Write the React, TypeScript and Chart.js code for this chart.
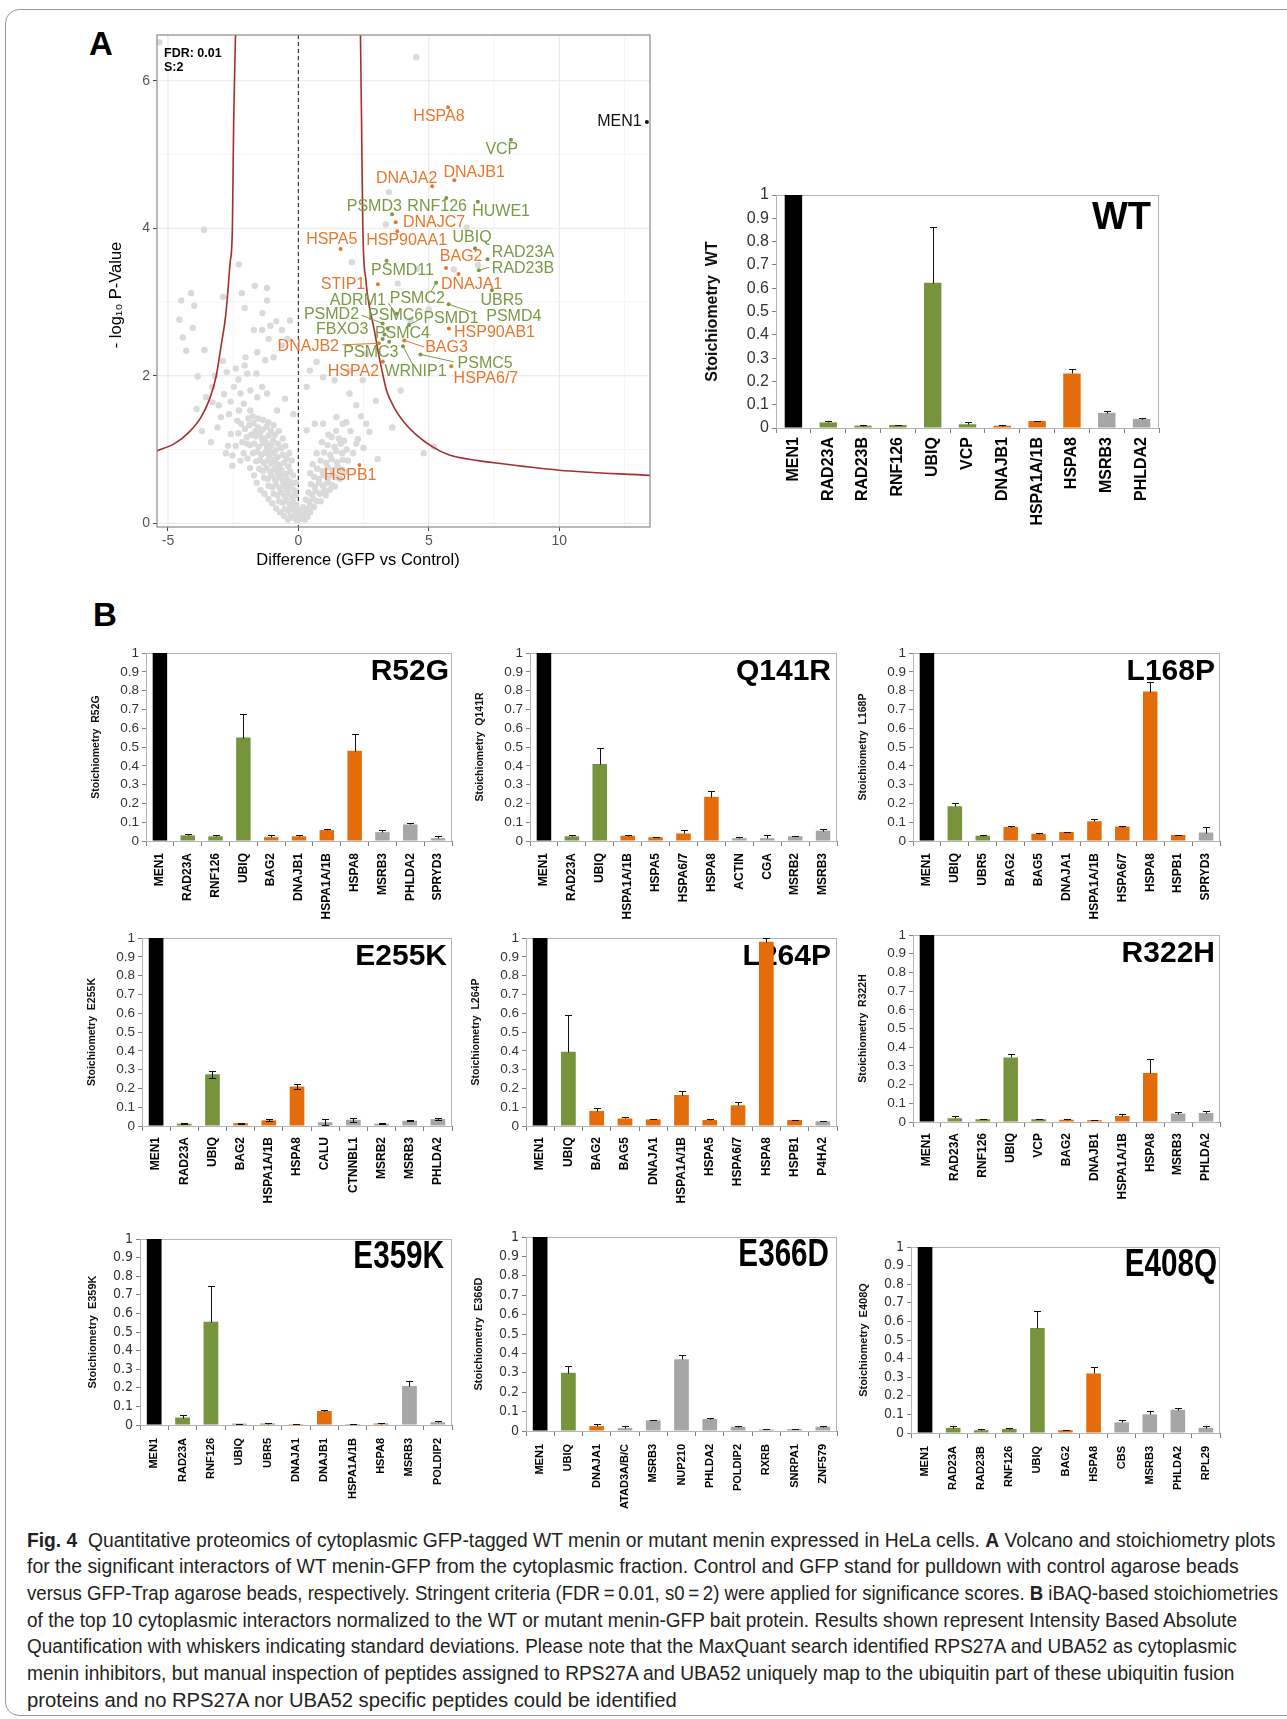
import React, { useEffect, useLayoutEffect, useRef } from 'react';
import { Chart, registerables } from 'chart.js';

Chart.register(...registerables);

const SANS = "'Liberation Sans', Arial, Helvetica, sans-serif";
const NARROW = "'Liberation Sans Narrow', 'Arial Narrow', 'DejaVu Sans Condensed', 'Liberation Sans', Arial, sans-serif";

// ---------------- Panel A: volcano plot ----------------
const volXTicks = [-5, 0, 5, 10];
const volYTicks = [0, 2, 4, 6];
const volXMinor = [-2.5, 2.5, 7.5, 12.5];
const volYMinor = [1, 3, 5];

// significance threshold curves
const curveRight: [number, number][] = [
  [2.38, 6.62], [2.42, 5.5], [2.47, 4.0], [2.59, 3.29], [2.66, 3.07], [2.91, 2.62], [3.1, 2.25],
  [3.23, 2.03], [3.38, 1.8], [3.67, 1.57], [4.05, 1.37], [4.49, 1.21], [5.13, 1.04], [5.76, 0.93],
  [6.9, 0.85], [7.5, 0.82], [10.0, 0.72], [13.48, 0.65],
];
const curveLeft: [number, number][] = [
  [-5.44, 0.98], [-4.75, 1.08], [-4.18, 1.24], [-3.73, 1.44], [-3.42, 1.67], [-3.16, 1.98],
  [-2.97, 2.39], [-2.78, 2.84], [-2.62, 3.52], [-2.53, 4.0], [-2.48, 5.46], [-2.41, 6.62],
];

// non-significant proteins (grey cloud)
const grayCloud: [number, number][] = [
  [-5.33, 6.52], [4.52, 6.32], [-3.62, 3.98], [3.47, 4.49], [3.35, 4.05], [6.45, 4.01], [2.05, 3.54],
  [3.81, 3.25], [5.96, 3.44], [6.88, 3.5], [-2.28, 3.51], [-4.11, 3.12], [-4.49, 3.02], [-3.99, 2.95],
  [-4.56, 2.76], [-4.05, 2.65], [-4.43, 2.52], [-4.3, 2.34], [-3.86, 1.99], [-2.06, 2.92], [-1.67, 3.22],
  [-1.2, 3.19], [-1.2, 3.02], [-0.85, 2.74], [-1.71, 2.62], [-1.39, 2.62], [-1.08, 2.68], [-1.14, 2.5],
  [-1.58, 2.32], [-2.03, 2.25], [-2.06, 2.14], [-1.96, 2.03], [-1.61, 2.03], [-1.27, 2.21], [-0.95, 2.25],
  [-0.63, 2.41], [-0.42, 2.5], [-0.63, 2.62], [-0.32, 2.75], [-2.88, 3.07], [-1.38, 2.85], [-2.17, 3.12],
  [0.7, 2.19], [0.44, 2.07], [0.95, 1.98], [1.39, 1.94], [1.96, 1.76], [2.22, 1.6], [2.47, 1.94],
  [2.97, 1.66], [3.92, 1.8], [2.72, 1.24], [3.04, 0.87], [4.81, 0.95], [5.19, 1.04], [2.28, 1.14],
  [2.22, 1.08], [1.84, 1.37], [1.46, 1.44], [0.95, 1.35], [0.63, 1.35], [0.32, 1.26], [1.96, 2.07],
  [0.32, 1.85], [3.6, 1.3], [4.3, 2.75], [5.0, 2.9], [4.55, 3.45], [2.6, 2.3],
  [-3.54, 1.71], [-3.29, 1.64], [-2.97, 1.44], [-2.66, 1.48], [-3.1, 1.3], [-2.59, 1.21], [-2.34, 1.39],
  [-2.47, 1.85], [-2.22, 1.76], [-1.84, 1.8], [-1.58, 1.71], [-1.39, 1.85], [-1.2, 1.76], [-0.82, 1.53],
  [-0.51, 1.69], [-0.19, 1.48], [-1.84, 1.53], [-2.09, 1.62], [-2.28, 1.53], [-2.7, 1.05], [-2.53, 0.78],
  [-2.22, 0.85], [-2.53, 0.92], [-2.78, 0.95], [-1.96, 1.08], [-3.3, 1.85], [-2.9, 2.2], [-3.6, 2.35],
  [-3.9, 1.55], [-3.7, 1.25], [-3.35, 1.1], [-3.05, 1.6], [-2.85, 1.75], [-2.6, 1.65], [-3.2, 2.0],
  [-2.75, 2.05], [-2.4, 2.1], [-2.3, 1.95],
  [-2.05, 1.28], [-1.88, 1.33], [-1.72, 1.36], [-1.55, 1.3], [-1.38, 1.27], [-1.22, 1.31], [-1.05, 1.25], [-0.9, 1.2],
  [-1.98, 1.17], [-1.8, 1.2], [-1.63, 1.18], [-1.47, 1.22], [-1.31, 1.15], [-1.14, 1.19], [-0.97, 1.12], [-0.78, 1.08],
  [-1.86, 1.06], [-1.7, 1.08], [-1.52, 1.04], [-1.36, 1.09], [-1.2, 1.03], [-1.04, 1.06], [-0.88, 0.99], [-0.66, 1.02],
  [-1.74, 0.95], [-1.58, 0.97], [-1.42, 0.93], [-1.27, 0.96], [-1.12, 0.92], [-0.96, 0.95], [-0.8, 0.9], [-0.6, 0.93], [-0.45, 0.88],
  [-1.62, 0.84], [-1.47, 0.86], [-1.33, 0.82], [-1.18, 0.85], [-1.03, 0.81], [-0.88, 0.84], [-0.73, 0.79], [-0.55, 0.82], [-0.38, 0.77],
  [-1.5, 0.74], [-1.36, 0.71], [-1.22, 0.75], [-1.08, 0.7], [-0.93, 0.73], [-0.79, 0.68], [-0.64, 0.72], [-0.48, 0.67], [-0.31, 0.7],
  [-1.32, 0.62], [-1.18, 0.6], [-1.03, 0.64], [-0.89, 0.59], [-0.74, 0.62], [-0.59, 0.57], [-0.45, 0.61], [-0.3, 0.56],
  [-1.15, 0.51], [-1.0, 0.49], [-0.86, 0.53], [-0.72, 0.48], [-0.57, 0.51], [-0.43, 0.46], [-0.28, 0.5], [-0.16, 0.45],
  [-0.95, 0.4], [-0.8, 0.38], [-0.66, 0.42], [-0.52, 0.37], [-0.38, 0.4], [-0.24, 0.35], [-0.12, 0.38],
  [-0.74, 0.3], [-0.6, 0.28], [-0.46, 0.31], [-0.33, 0.26], [-0.2, 0.29], [-0.08, 0.25],
  [-0.52, 0.19], [-0.38, 0.17], [-0.25, 0.2], [-0.12, 0.15], [-0.02, 0.18],
  [-0.3, 0.09], [-0.16, 0.07], [-0.05, 0.04], [0.03, 0.1],
  [-2.15, 1.1], [-2.3, 1.22], [-2.4, 1.05], [-2.1, 0.95], [-1.95, 0.88], [-1.85, 0.75], [-1.7, 0.65],
  [-1.6, 0.55], [-1.45, 0.45], [-1.3, 0.4], [-1.15, 0.33], [-1.0, 0.27], [-0.85, 0.2], [-0.7, 0.15],
  [-0.55, 0.1], [-0.4, 0.05], [-1.75, 1.45], [-1.55, 1.42], [-1.35, 1.4], [-1.15, 1.37], [-0.95, 1.33],
  [-0.75, 1.25], [-0.6, 1.15], [-0.5, 1.05], [-0.35, 0.95], [-0.25, 0.85], [-0.2, 0.65], [-0.1, 0.55],
  [-1.92, 1.42], [-2.2, 1.35], [-1.65, 1.25], [-1.4, 1.15], [-1.25, 1.1], [-1.1, 0.98], [-0.95, 0.86],
  [-0.82, 0.76], [-0.68, 0.66], [-0.55, 0.56], [-0.42, 0.52],
  [0.12, 0.06], [0.22, 0.12], [0.35, 0.09], [0.18, 0.22], [0.32, 0.19], [0.46, 0.24],
  [0.28, 0.32], [0.42, 0.29], [0.56, 0.34], [0.7, 0.3], [0.38, 0.42], [0.52, 0.39], [0.66, 0.44], [0.82, 0.4], [0.98, 0.44],
  [0.48, 0.53], [0.63, 0.5], [0.79, 0.55], [0.95, 0.51], [1.12, 0.55], [1.28, 0.52],
  [0.6, 0.63], [0.78, 0.6], [0.96, 0.65], [1.14, 0.61], [1.32, 0.66], [1.48, 0.62],
  [0.72, 0.74], [0.92, 0.71], [1.12, 0.76], [1.3, 0.72], [1.5, 0.77], [1.66, 0.73],
  [0.85, 0.85], [1.06, 0.82], [1.27, 0.87], [1.48, 0.83], [1.7, 0.86],
  [0.98, 0.96], [1.22, 0.93], [1.45, 0.98], [1.68, 0.95], [1.12, 1.06], [1.38, 1.04], [1.62, 1.08],
  [1.28, 1.17], [1.55, 1.15],
  [0.08, 0.15], [0.25, 0.05], [0.45, 0.15], [0.6, 0.22], [0.85, 0.3], [1.05, 0.38], [1.2, 0.45],
  [1.4, 0.5], [1.6, 0.6], [1.8, 0.7], [1.9, 0.85], [1.85, 1.0], [1.75, 1.12], [1.45, 1.25], [1.15, 1.2],
  [0.9, 1.1], [0.7, 0.95], [0.55, 0.8], [0.45, 0.68], [2.0, 1.25], [2.1, 0.95], [1.7, 1.35], [2.4, 1.45],
  [2.6, 1.35], [2.5, 1.02],
];

// significant interactors
const hitNames = ['MEN1', 'HSPA8', 'VCP', 'DNAJB1', 'DNAJA2', 'PSMD3', 'RNF126', 'HUWE1', 'DNAJC7', 'HSPA5', 'HSP90AA1', 'UBIQ', 'RAD23A', 'BAG2', 'PSMD11', 'RAD23B', 'STIP1', 'DNAJA1', 'ADRM1', 'PSMC2', 'UBR5', 'PSMD2', 'PSMC6', 'PSMD1', 'PSMD4', 'FBXO3', 'PSMC4', 'HSP90AB1', 'DNAJB2', 'BAG3', 'PSMC3', 'PSMC5', 'WRNIP1', 'HSPA2', 'HSPA6/7', 'HSPB1'];
const hitX = [13.36, 5.74, 8.15, 5.98, 5.13, 3.59, 5.67, 6.88, 3.73, 1.62, 3.79, 6.77, 7.25, 5.66, 3.38, 6.92, 3.05, 6.14, 3.76, 5.28, 7.42, 3.23, 3.42, 4.24, 5.76, 3.23, 3.48, 5.77, 3.08, 4.06, 3.3, 4.68, 4.01, 3.24, 5.86, 2.34];
const hitY = [5.44, 5.64, 5.2, 4.65, 4.57, 4.19, 4.41, 4.36, 4.08, 3.72, 3.96, 3.73, 3.58, 3.46, 3.56, 3.43, 3.24, 3.38, 2.84, 3.26, 3.16, 2.71, 2.64, 2.69, 2.97, 2.5, 2.46, 2.64, 2.44, 2.48, 2.56, 2.29, 2.4, 2.19, 2.13, 0.79];
const hitGroup = ['k', 'o', 'g', 'o', 'o', 'g', 'g', 'g', 'o', 'o', 'o', 'g', 'g', 'o', 'g', 'g', 'o', 'o', 'g', 'g', 'g', 'g', 'g', 'g', 'g', 'g', 'g', 'o', 'o', 'o', 'g', 'g', 'g', 'o', 'o', 'o'];
const hitLabelX = [12.31, 5.39, 7.8, 6.74, 4.15, 2.91, 5.32, 7.77, 5.2, 1.28, 4.15, 6.66, 8.61, 6.24, 3.99, 8.61, 1.71, 6.64, 2.28, 4.56, 7.8, 1.27, 3.73, 5.85, 8.26, 1.68, 3.99, 7.52, 0.38, 5.68, 2.78, 7.16, 4.49, 2.11, 7.19, 1.99];
const hitLabelY = [5.44, 5.51, 5.07, 4.75, 4.68, 4.3, 4.29, 4.22, 4.08, 3.85, 3.83, 3.87, 3.67, 3.61, 3.42, 3.45, 3.24, 3.24, 3.02, 3.05, 3.02, 2.83, 2.82, 2.78, 2.8, 2.62, 2.57, 2.58, 2.4, 2.38, 2.31, 2.17, 2.06, 2.06, 1.96, 0.65];
const leaderNames = ['RAD23B', 'PSMC2', 'ADRM1', 'PSMD4', 'PSMD2', 'PSMD1', 'DNAJB2', 'BAG3', 'WRNIP1', 'PSMC5'];
const leaderEndX = [7.31, 5.1, 3.45, 6.85, 2.42, 4.62, 1.68, 4.82, 4.42, 5.95];
const leaderEndY = [3.47, 3.15, 2.98, 2.84, 2.82, 2.76, 2.42, 2.39, 2.13, 2.19];

// ---------------- Stoichiometry bar panels ----------------
const barTicks = [0, 0.1, 0.2, 0.3, 0.4, 0.5, 0.6, 0.7, 0.8, 0.9, 1];

const wtCats = ['MEN1', 'RAD23A', 'RAD23B', 'RNF126', 'UBIQ', 'VCP', 'DNAJB1', 'HSPA1A/1B', 'HSPA8', 'MSRB3', 'PHLDA2'];
const wtVals = [1, 0.024, 0.01, 0.013, 0.623, 0.016, 0.01, 0.03, 0.234, 0.065, 0.039];
const wtSd = [0, 0.008, 0.003, 0.002, 0.24, 0.008, 0.002, 0.002, 0.02, 0.008, 0.004];
const wtCol = ['k', 'g', 'g', 'g', 'g', 'g', 'o', 'o', 'o', 's', 's'];

const r52gCats = ['MEN1', 'RAD23A', 'RNF126', 'UBIQ', 'BAG2', 'DNAJB1', 'HSPA1A/1B', 'HSPA8', 'MSRB3', 'PHLDA2', 'SPRYD3'];
const r52gVals = [1, 0.03, 0.025, 0.55, 0.02, 0.025, 0.058, 0.48, 0.047, 0.088, 0.015];
const r52gSd = [0, 0.008, 0.008, 0.125, 0.01, 0.005, 0.007, 0.09, 0.01, 0.01, 0.012];
const r52gCol = ['k', 'g', 'g', 'g', 'o', 'o', 'o', 'o', 's', 's', 's'];

const q141rCats = ['MEN1', 'RAD23A', 'UBIQ', 'HSPA1A/1B', 'HSPA5', 'HSPA6/7', 'HSPA8', 'ACTIN', 'CGA', 'MSRB2', 'MSRB3'];
const q141rVals = [1, 0.025, 0.41, 0.028, 0.02, 0.04, 0.235, 0.015, 0.015, 0.025, 0.055];
const q141rSd = [0, 0.005, 0.085, 0.003, 0.002, 0.017, 0.03, 0.004, 0.015, 0.002, 0.007];
const q141rCol = ['k', 'g', 'g', 'o', 'o', 'o', 'o', 's', 's', 's', 's'];

const l168pCats = ['MEN1', 'UBIQ', 'UBR5', 'BAG2', 'BAG5', 'DNAJA1', 'HSPA1A/1B', 'HSPA6/7', 'HSPA8', 'HSPB1', 'SPRYD3'];
const l168pVals = [1, 0.185, 0.028, 0.075, 0.038, 0.048, 0.105, 0.077, 0.795, 0.032, 0.045];
const l168pSd = [0, 0.015, 0.003, 0.003, 0.004, 0.002, 0.01, 0.005, 0.05, 0.002, 0.03];
const l168pCol = ['k', 'g', 'g', 'o', 'o', 'o', 'o', 'o', 'o', 'o', 's'];

const e255kCats = ['MEN1', 'RAD23A', 'UBIQ', 'BAG2', 'HSPA1A/1B', 'HSPA8', 'CALU', 'CTNNBL1', 'MSRB2', 'MSRB3', 'PHLDA2'];
const e255kVals = [1, 0.012, 0.275, 0.015, 0.03, 0.21, 0.02, 0.033, 0.012, 0.028, 0.037];
const e255kSd = [0, 0.003, 0.02, 0.003, 0.005, 0.015, 0.017, 0.01, 0.003, 0.004, 0.007];
const e255kCol = ['k', 'g', 'g', 'o', 'o', 'o', 's', 's', 's', 's', 's'];

const l264pCats = ['MEN1', 'UBIQ', 'BAG2', 'BAG5', 'DNAJA1', 'HSPA1A/1B', 'HSPA5', 'HSPA6/7', 'HSPA8', 'HSPB1', 'P4HA2'];
const l264pVals = [1, 0.395, 0.08, 0.04, 0.035, 0.165, 0.032, 0.11, 0.98, 0.032, 0.025];
const l264pSd = [0, 0.195, 0.015, 0.007, 0.003, 0.022, 0.003, 0.018, 0.02, 0.002, 0.002];
const l264pCol = ['k', 'g', 'o', 'o', 'o', 'o', 'o', 'o', 'o', 'o', 's'];

const r322hCats = ['MEN1', 'RAD23A', 'RNF126', 'UBIQ', 'VCP', 'BAG2', 'DNAJB1', 'HSPA1A/1B', 'HSPA8', 'MSRB3', 'PHLDA2'];
const r322hVals = [1, 0.02, 0.015, 0.345, 0.015, 0.012, 0.01, 0.032, 0.262, 0.045, 0.048];
const r322hSd = [0, 0.01, 0.002, 0.02, 0.003, 0.006, 0.001, 0.013, 0.076, 0.008, 0.012];
const r322hCol = ['k', 'g', 'g', 'g', 'g', 'o', 'o', 'o', 'o', 's', 's'];

const e359kCats = ['MEN1', 'RAD23A', 'RNF126', 'UBIQ', 'UBR5', 'DNAJA1', 'DNAJB1', 'HSPA1A/1B', 'HSPA8', 'MSRB3', 'POLDIP2'];
const e359kVals = [1, 0.04, 0.555, 0.007, 0.008, 0.005, 0.075, 0.005, 0.008, 0.21, 0.015];
const e359kSd = [0, 0.013, 0.19, 0.001, 0.002, 0.001, 0.007, 0.001, 0.002, 0.025, 0.005];
const e359kCol = ['k', 'g', 'g', 'g', 'g', 'o', 'o', 'o', 'o', 's', 's'];

const e366dCats = ['MEN1', 'UBIQ', 'DNAJA1', 'ATAD3A/B/C', 'MSRB3', 'NUP210', 'PHLDA2', 'POLDIP2', 'RXRB', 'SNRPA1', 'ZNF579'];
const e366dVals = [1, 0.3, 0.025, 0.015, 0.055, 0.37, 0.062, 0.022, 0.008, 0.01, 0.022];
const e366dSd = [0, 0.035, 0.01, 0.013, 0.003, 0.02, 0.003, 0.003, 0.004, 0.002, 0.003];
const e366dCol = ['k', 'g', 'o', 's', 's', 's', 's', 's', 's', 's', 's'];

const e408qCats = ['MEN1', 'RAD23A', 'RAD23B', 'RNF126', 'UBIQ', 'BAG2', 'HSPA8', 'CBS', 'MSRB3', 'PHLDA2', 'RPL29'];
const e408qVals = [1, 0.028, 0.015, 0.022, 0.565, 0.015, 0.32, 0.057, 0.1, 0.125, 0.028];
const e408qSd = [0, 0.007, 0.005, 0.003, 0.09, 0.003, 0.035, 0.011, 0.018, 0.01, 0.007];
const e408qCol = ['k', 'g', 'g', 'g', 'g', 'o', 'o', 's', 's', 's', 's'];

const BAR_COLORS: Record<string, string> = { k: '#000000', g: '#77933C', o: '#E46C0A', s: '#A6A6A6' };
const VOL_COLORS: Record<string, string> = { k: '#111111', g: '#7A9A45', o: '#E8772E' };

// ---------------- layout / styles ----------------
const styleWT = { tickSize: 16, tickFamily: SANS, catSize: 16, catFamily: SANS, catPad: 4, yTitleSize: 16, yTitleDx: 63, titleSize: 38, titleScale: 1, titleDy: 24, barPct: 0.5 };
const styleR1 = { tickSize: 13.5, tickFamily: SANS, catSize: 12, catFamily: SANS, catPad: 7, yTitleSize: 10.5, yTitleDx: 50, titleSize: 30, titleScale: 1, titleDy: 18.5, barPct: 0.52 };
const styleR2 = { ...styleR1, catPad: 6 };
const styleR3 = { tickSize: 14, tickFamily: NARROW, catSize: 11, catFamily: SANS, catPad: 8, yTitleSize: 11, yTitleDx: 47, titleSize: 38, titleScale: 0.78, titleDy: 19, barPct: 0.52 };

const panels = [
  { title: 'WT', cats: wtCats, vals: wtVals, sd: wtSd, col: wtCol, both: false, L: 776, R: 1159, T: 195, B: 428, yW: 84, xH: 100, titleDx: 8, st: styleWT },
  { title: 'R52G', cats: r52gCats, vals: r52gVals, sd: r52gSd, col: r52gCol, both: false, L: 146, R: 452, T: 653, B: 841, yW: 70, xH: 85, titleDx: 3, st: styleR1 },
  { title: 'Q141R', cats: q141rCats, vals: q141rVals, sd: q141rSd, col: q141rCol, both: false, L: 530, R: 837, T: 653, B: 841, yW: 70, xH: 85, titleDx: 6, st: styleR1 },
  { title: 'L168P', cats: l168pCats, vals: l168pVals, sd: l168pSd, col: l168pCol, both: false, L: 913, R: 1220, T: 653, B: 841, yW: 70, xH: 85, titleDx: 5, st: styleR1 },
  { title: 'E255K', cats: e255kCats, vals: e255kVals, sd: e255kSd, col: e255kCol, both: true, L: 142, R: 452, T: 938, B: 1126, yW: 70, xH: 85, titleDx: 5, st: styleR2 },
  { title: 'L264P', cats: l264pCats, vals: l264pVals, sd: l264pSd, col: l264pCol, both: false, L: 526, R: 837, T: 938, B: 1126, yW: 70, xH: 85, titleDx: 6, st: styleR2 },
  { title: 'R322H', cats: r322hCats, vals: r322hVals, sd: r322hSd, col: r322hCol, both: false, L: 913, R: 1220, T: 935, B: 1122, yW: 70, xH: 85, titleDx: 5, st: styleR2 },
  { title: 'E359K', cats: e359kCats, vals: e359kVals, sd: e359kSd, col: e359kCol, both: false, L: 140, R: 452, T: 1239, B: 1425, yW: 70, xH: 90, titleDx: 8, st: styleR3 },
  { title: 'E366D', cats: e366dCats, vals: e366dVals, sd: e366dSd, col: e366dCol, both: false, L: 526, R: 837, T: 1237, B: 1431, yW: 70, xH: 90, titleDx: 8, st: styleR3 },
  { title: 'E408Q', cats: e408qCats, vals: e408qVals, sd: e408qSd, col: e408qCol, both: false, L: 911, R: 1220, T: 1247, B: 1433, yW: 70, xH: 90, titleDx: 3, st: styleR3 },
];

const PT = 12;
const PR = 8;

function BarPanel({ p }: { p: any }) {
  const ref = useRef<HTMLCanvasElement>(null);
  const w = p.R - p.L + p.yW + PR;
  const h = p.B - p.T + PT + p.xH;
  useEffect(() => {
    const st = p.st;
    const plugin = {
      id: 'panelDeco',
      beforeDatasetsDraw(chart: any) {
        const { ctx, chartArea: a } = chart;
        ctx.save();
        ctx.strokeStyle = '#b4b4b4';
        ctx.lineWidth = 1;
        ctx.strokeRect(a.left + 0.5, a.top + 0.5, a.right - a.left - 1, a.bottom - a.top);
        ctx.fillStyle = '#000';
        ctx.font = `bold ${st.titleSize}px ${SANS}`;
        ctx.textAlign = 'right';
        ctx.textBaseline = 'middle';
        ctx.translate(a.right - p.titleDx, a.top + st.titleDy);
        ctx.scale(st.titleScale, 1);
        ctx.fillText(p.title, 0, 0);
        ctx.restore();
        ctx.save();
        ctx.translate(a.left - st.yTitleDx, (a.top + a.bottom) / 2);
        ctx.rotate(-Math.PI / 2);
        ctx.font = `bold ${st.yTitleSize}px ${SANS}`;
        ctx.fillStyle = '#111';
        ctx.textAlign = 'center';
        ctx.textBaseline = 'middle';
        ctx.fillText(`Stoichiometry  ${p.title}`, 0, 0);
        ctx.restore();
      },
      afterDatasetsDraw(chart: any) {
        const { ctx } = chart;
        const ys = chart.scales.y;
        const meta = chart.getDatasetMeta(0);
        ctx.save();
        ctx.strokeStyle = '#111';
        ctx.lineWidth = 1;
        meta.data.forEach((bar: any, i: number) => {
          const sd = p.sd[i];
          if (!sd) return;
          const v = p.vals[i];
          const x = Math.round(bar.x) + 0.5;
          const yTop = Math.round(ys.getPixelForValue(v + sd)) + 0.5;
          const yBot = Math.round(ys.getPixelForValue(p.both ? v - sd : v)) + 0.5;
          ctx.beginPath();
          ctx.moveTo(x, yBot);
          ctx.lineTo(x, yTop);
          ctx.moveTo(x - 3.5, yTop);
          ctx.lineTo(x + 3.5, yTop);
          if (p.both) {
            ctx.moveTo(x - 3.5, yBot);
            ctx.lineTo(x + 3.5, yBot);
          }
          ctx.stroke();
        });
        ctx.restore();
      },
    };
    const chart = new Chart(ref.current as HTMLCanvasElement, {
      type: 'bar',
      data: {
        labels: p.cats,
        datasets: [
          {
            data: p.vals,
            backgroundColor: p.col.map((c: string) => BAR_COLORS[c]),
            borderWidth: 0,
            barPercentage: st.barPct,
            categoryPercentage: 1,
          },
        ],
      },
      options: {
        responsive: false,
        animation: false,
        devicePixelRatio: 1,
        events: [],
        layout: { padding: { top: PT, right: PR, left: 0, bottom: 0 } },
        plugins: { legend: { display: false }, tooltip: { enabled: false } },
        scales: {
          x: {
            offset: true,
            grid: { offset: true, drawOnChartArea: false, tickLength: 5, color: '#808080' },
            border: { color: '#808080' },
            ticks: {
              autoSkip: false,
              minRotation: 90,
              maxRotation: 90,
              padding: st.catPad,
              color: '#000',
              font: { family: st.catFamily, size: st.catSize, weight: 'bold' },
            },
            afterFit: (s: any) => {
              s.height = p.xH;
            },
          },
          y: {
            min: 0,
            max: 1,
            afterBuildTicks: (s: any) => {
              s.ticks = barTicks.map((v) => ({ value: v }));
            },
            grid: { drawOnChartArea: false, tickLength: 4, color: '#808080' },
            border: { color: '#808080' },
            ticks: {
              autoSkip: false,
              padding: 3,
              color: '#333',
              font: { family: st.tickFamily, size: st.tickSize, lineHeight: 1 },
              callback: (v: any) => String(Math.round(Number(v) * 10) / 10),
            },
            afterFit: (s: any) => {
              s.width = p.yW;
            },
          },
        },
      } as any,
      plugins: [plugin],
    });
    return () => chart.destroy();
  }, []);
  return (
    <canvas
      ref={ref}
      width={w}
      height={h}
      style={{ position: 'absolute', left: p.L - p.yW, top: p.T - PT, width: w, height: h }}
    />
  );
}

// volcano layout
const VOL = { left: 90, top: 20, width: 570, height: 560, yW: 67, xH: 53, pt: 15, pr: 10 };

function Volcano() {
  const ref = useRef<HTMLCanvasElement>(null);
  useEffect(() => {
    const toPts = (arr: [number, number][]) => arr.map(([x, y]) => ({ x, y }));
    const groupPts = (g: string) =>
      hitNames.map((_, i) => i).filter((i) => hitGroup[i] === g).map((i) => ({ x: hitX[i], y: hitY[i] }));
    const plugin = {
      id: 'volcDeco',
      beforeDatasetsDraw(chart: any) {
        const { ctx, chartArea: a } = chart;
        const xs = chart.scales.x;
        const ys = chart.scales.y;
        ctx.save();
        const vline = (v: number) => {
          const px = xs.getPixelForValue(v);
          ctx.beginPath();
          ctx.moveTo(px, a.top);
          ctx.lineTo(px, a.bottom);
          ctx.stroke();
        };
        const hline = (v: number) => {
          const py = ys.getPixelForValue(v);
          ctx.beginPath();
          ctx.moveTo(a.left, py);
          ctx.lineTo(a.right, py);
          ctx.stroke();
        };
        ctx.strokeStyle = '#f3f3f3';
        ctx.lineWidth = 0.8;
        volXMinor.forEach(vline);
        volYMinor.forEach(hline);
        ctx.strokeStyle = '#e7e7e7';
        ctx.lineWidth = 1.1;
        volXTicks.forEach(vline);
        volYTicks.forEach(hline);
        ctx.strokeStyle = '#3a3a3a';
        ctx.lineWidth = 1.2;
        ctx.setLineDash([4, 3]);
        vline(0);
        ctx.restore();
      },
      afterDatasetsDraw(chart: any) {
        const { ctx, chartArea: a } = chart;
        const xs = chart.scales.x;
        const ys = chart.scales.y;
        ctx.save();
        ctx.lineWidth = 1;
        leaderNames.forEach((n, k) => {
          const i = hitNames.indexOf(n);
          ctx.strokeStyle = VOL_COLORS[hitGroup[i]];
          ctx.beginPath();
          ctx.moveTo(xs.getPixelForValue(hitX[i]), ys.getPixelForValue(hitY[i]));
          ctx.lineTo(xs.getPixelForValue(leaderEndX[k]), ys.getPixelForValue(leaderEndY[k]));
          ctx.stroke();
        });
        ctx.font = `16px ${SANS}`;
        ctx.textAlign = 'center';
        ctx.textBaseline = 'middle';
        hitNames.forEach((n, i) => {
          ctx.fillStyle = VOL_COLORS[hitGroup[i]];
          ctx.fillText(n, xs.getPixelForValue(hitLabelX[i]), ys.getPixelForValue(hitLabelY[i]));
        });
        ctx.fillStyle = '#000';
        ctx.font = `bold 12.5px ${SANS}`;
        ctx.textAlign = 'left';
        ctx.fillText('FDR: 0.01', a.left + 7, a.top + 19);
        ctx.fillText('S:2', a.left + 7, a.top + 33);
        ctx.strokeStyle = '#8a8a8a';
        ctx.lineWidth = 1.2;
        ctx.strokeRect(a.left, a.top, a.right - a.left, a.bottom - a.top);
        ctx.fillStyle = '#000';
        ctx.font = `16.5px ${SANS}`;
        ctx.textAlign = 'center';
        ctx.fillText('Difference (GFP vs Control)', 268, 540);
        ctx.translate(26, 275);
        ctx.rotate(-Math.PI / 2);
        ctx.fillText('- log\u2081\u2080 P-Value', 0, 0);
        ctx.restore();
      },
    };
    const chart = new Chart(ref.current as HTMLCanvasElement, {
      type: 'scatter',
      data: {
        datasets: [
          { data: toPts(grayCloud), pointRadius: 3.2, backgroundColor: '#dadada', borderWidth: 0, order: 5 },
          {
            data: toPts(curveRight), showLine: true, borderColor: '#a3302b', borderWidth: 1.6,
            pointRadius: 0, cubicInterpolationMode: 'monotone', order: 4,
          },
          {
            data: toPts(curveLeft), showLine: true, borderColor: '#a3302b', borderWidth: 1.6,
            pointRadius: 0, cubicInterpolationMode: 'monotone', order: 4,
          },
          { data: groupPts('o'), pointRadius: 2, backgroundColor: VOL_COLORS.o, borderWidth: 0, order: 2 },
          { data: groupPts('g'), pointRadius: 2, backgroundColor: VOL_COLORS.g, borderWidth: 0, order: 2 },
          { data: groupPts('k'), pointRadius: 2, backgroundColor: VOL_COLORS.k, borderWidth: 0, order: 1 },
        ],
      },
      options: {
        responsive: false,
        animation: false,
        devicePixelRatio: 1,
        events: [],
        layout: { padding: { top: VOL.pt, right: VOL.pr, left: 0, bottom: 0 } },
        plugins: { legend: { display: false }, tooltip: { enabled: false } },
        scales: {
          x: {
            type: 'linear',
            min: -5.42,
            max: 13.48,
            afterBuildTicks: (s: any) => {
              s.ticks = volXTicks.map((v) => ({ value: v }));
            },
            grid: { drawOnChartArea: false, tickLength: 4, color: '#444' },
            border: { display: false },
            ticks: { padding: 2, color: '#555', font: { family: SANS, size: 14 } },
            afterFit: (s: any) => {
              s.height = VOL.xH;
            },
          },
          y: {
            type: 'linear',
            min: -0.05,
            max: 6.62,
            afterBuildTicks: (s: any) => {
              s.ticks = volYTicks.map((v) => ({ value: v }));
            },
            grid: { drawOnChartArea: false, tickLength: 4, color: '#444' },
            border: { display: false },
            ticks: { padding: 3, color: '#555', font: { family: SANS, size: 14 } },
            afterFit: (s: any) => {
              s.width = VOL.yW;
            },
          },
        },
      } as any,
      plugins: [plugin],
    });
    return () => chart.destroy();
  }, []);
  return (
    <canvas
      ref={ref}
      width={VOL.width}
      height={VOL.height}
      style={{ position: 'absolute', left: VOL.left, top: VOL.top, width: VOL.width, height: VOL.height }}
    />
  );
}

// ---------------- caption ----------------
const captionLines: { t: string; b?: boolean }[][] = [
  [
    { t: 'Fig. 4', b: true },
    { t: '  Quantitative proteomics of cytoplasmic GFP-tagged WT menin or mutant menin expressed in HeLa cells. ' },
    { t: 'A', b: true },
    { t: ' Volcano and stoichiometry plots' },
  ],
  [{ t: 'for the significant interactors of WT menin-GFP from the cytoplasmic fraction. Control and GFP stand for pulldown with control agarose beads' }],
  [
    { t: 'versus GFP-Trap agarose beads, respectively. Stringent criteria (FDR\u2009=\u20090.01, s0\u2009=\u20092) were applied for significance scores. ' },
    { t: 'B', b: true },
    { t: ' iBAQ-based stoichiometries' },
  ],
  [{ t: 'of the top 10 cytoplasmic interactors normalized to the WT or mutant menin-GFP bait protein. Results shown represent Intensity Based Absolute' }],
  [{ t: 'Quantification with whiskers indicating standard deviations. Please note that the MaxQuant search identified RPS27A and UBA52 as cytoplasmic' }],
  [{ t: 'menin inhibitors, but manual inspection of peptides assigned to RPS27A and UBA52 uniquely map to the ubiquitin part of these ubiquitin fusion' }],
  [{ t: 'proteins and no RPS27A nor UBA52 specific peptides could be identified' }],
];
const CAP = { left: 27, firstCenter: 1540, lineGap: 26.7, fontSize: 20.5 };
const captionRightEnds = [1275, 1239, 1278, 1237, 1237, 1234, 677];

function Caption() {
  const refs = useRef<(HTMLDivElement | null)[]>([]);
  useLayoutEffect(() => {
    refs.current.forEach((el, i) => {
      if (!el) return;
      const natural = el.offsetWidth;
      const target = captionRightEnds[i] - CAP.left;
      if (natural > 0) el.style.transform = `scaleX(${target / natural})`;
    });
  }, []);
  return (
    <>
      {captionLines.map((segs, i) => (
        <div
          key={i}
          ref={(el) => {
            refs.current[i] = el;
          }}
          style={{
            position: 'absolute',
            left: CAP.left,
            top: CAP.firstCenter - CAP.lineGap / 2 + i * CAP.lineGap,
            height: CAP.lineGap,
            lineHeight: `${CAP.lineGap}px`,
            fontSize: CAP.fontSize,
            fontFamily: SANS,
            color: '#231f20',
            whiteSpace: 'pre',
            transformOrigin: '0 50%',
          }}
        >
          {segs.map((s, k) => (
            <span key={k} style={{ fontWeight: s.b ? 'bold' : 'normal' }}>
              {s.t}
            </span>
          ))}
        </div>
      ))}
    </>
  );
}

export default function App() {
  return (
    <div
      style={{
        position: 'absolute',
        left: 0,
        top: 0,
        width: 1287,
        height: 1719,
        overflow: 'hidden',
        background: '#ffffff',
        fontFamily: SANS,
      }}
    >
      <div
        style={{
          position: 'absolute',
          left: 5,
          top: 9,
          width: 1320,
          height: 1707,
          border: '1px solid #9a9a9a',
          borderRadius: 14,
          boxSizing: 'border-box',
        }}
      />
      <div style={{ position: 'absolute', left: 89, top: 27, fontSize: 33, lineHeight: '33px', fontWeight: 'bold', fontFamily: SANS }}>A</div>
      <div style={{ position: 'absolute', left: 93, top: 598, fontSize: 33, lineHeight: '33px', fontWeight: 'bold', fontFamily: SANS }}>B</div>
      <Volcano />
      {panels.map((p) => (
        <BarPanel key={p.title} p={p} />
      ))}
      <Caption />
    </div>
  );
}
